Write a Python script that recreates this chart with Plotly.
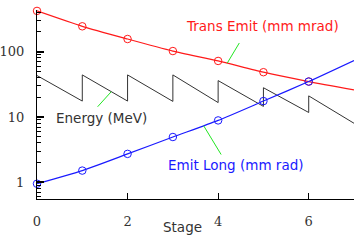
import numpy as np
import plotly.graph_objects as go

# ---- data ----
stages = [0, 1, 2, 3, 4, 5, 6, 7]
marker_stages = [0, 1, 2, 3, 4, 5, 6]
trans_emit = [420, 244, 156, 102, 72, 48.4, 34.8, 26]      # mm mrad
emit_long = [0.95, 1.51, 2.72, 4.93, 8.85, 17.5, 34.8, 73]  # mm rad
energy_x = [0, 1, 1, 2, 2, 3, 3, 4, 4, 5, 5, 6, 6, 7]
energy_y = [43, 17.5, 44, 17.5, 44, 17.3, 44, 16.6, 36, 14.5, 28, 11.7, 21, 8]  # MeV
x_tickvals = [0, 2, 4, 6]
y_tickvals = [1, 10, 100]
y_ticktext = ["1", "10", "100"]
y_minor = [0.6, 0.7, 0.8, 0.9] + [k * 10 ** e for e in range(0, 3) for k in range(2, 10)]

RED = "#ff1a1a"
BLUE = "#1a1aff"
GREEN = "#22e622"
GREY = "#333333"

fig = go.Figure()
fig.add_trace(go.Scatter(x=energy_x, y=energy_y, mode="lines",
                         line=dict(color=GREY, width=1), showlegend=False))
fig.add_trace(go.Scatter(x=stages, y=trans_emit, mode="lines",
                         line=dict(color=RED, width=1.2, shape="spline", smoothing=0.6), showlegend=False))
fig.add_trace(go.Scatter(x=marker_stages, y=trans_emit[:len(marker_stages)], mode="markers",
                         marker=dict(symbol="circle-open", size=7.5, color=RED, line=dict(width=1)),
                         showlegend=False, cliponaxis=False))
fig.add_trace(go.Scatter(x=stages, y=emit_long, mode="lines",
                         line=dict(color=BLUE, width=1.2, shape="spline", smoothing=0.6), showlegend=False))
fig.add_trace(go.Scatter(x=marker_stages, y=emit_long[:len(marker_stages)], mode="markers",
                         marker=dict(symbol="circle-open", size=7.5, color=BLUE, line=dict(width=1)),
                         showlegend=False, cliponaxis=False))


def on_curve(xs, ys, xq):
    return float(np.interp(xq, xs, np.log10(ys)))


def seg_interp(xs, ys, xq):
    # interpolate within the sawtooth segment that contains xq
    for i in range(len(xs) - 1):
        if xs[i] <= xq <= xs[i + 1] and xs[i + 1] > xs[i]:
            a, b = np.log10(ys[i]), np.log10(ys[i + 1])
            t = (xq - xs[i]) / (xs[i + 1] - xs[i])
            return float(a + t * (b - a))
    return float(np.log10(ys[-1]))


pointers = [
    (4.2, on_curve(stages, trans_emit, 4.2), 13, -21.7),
    (1.64, seg_interp(energy_x, energy_y, 1.64), -15, 16.6),
    (3.68, on_curve(stages, emit_long, 3.68), 18.4, 30.3),
]
for xq, yq, ax, ay in pointers:
    fig.add_annotation(x=xq, y=yq, text="", showarrow=True, arrowhead=0,
                       arrowwidth=1, arrowcolor=GREEN, ax=ax, ay=ay, standoff=0, startstandoff=0)

labels = [
    ("Trans Emit (mm mrad)", 0.710, 0.913, RED),
    ("Energy (MeV)", 0.204, 0.427, GREY),
    ("Emit Long (mm rad)", 0.627, 0.182, BLUE),
    ("Stage", 0.46, -0.150, GREY),
]
for txt, px, py, col in labels:
    fig.add_annotation(x=px, y=py, xref="paper", yref="paper", text=txt, showarrow=False,
                       xanchor="center", yanchor="middle",
                       font=dict(family="DejaVu Sans", size=13.5, color=col))

fig.update_layout(
    width=354, height=249,
    margin=dict(l=37, r=0, t=10, b=50, autoexpand=False),
    paper_bgcolor="white", plot_bgcolor="white",
    xaxis=dict(range=[0, 7], tickmode="array", tickvals=x_tickvals, automargin=False,
               ticks="inside", ticklen=6, tickwidth=1, tickcolor="black",
               showline=True, linecolor="black", linewidth=1.2, showgrid=False, zeroline=False,
               ticklabelstandoff=10,
               tickfont=dict(family="DejaVu Serif", size=13, color=GREY)),
    yaxis=dict(type="log", range=[-0.256, 2.637], tickmode="array", automargin=False,
               tickvals=y_tickvals, ticktext=y_ticktext,
               ticks="inside", ticklen=7, tickwidth=1.5, tickcolor="black",
               minor=dict(ticks="inside", ticklen=4, tickwidth=1, tickcolor="black",
                          tickmode="array", tickvals=y_minor, showgrid=False),
               showline=True, linecolor="black", linewidth=1.2, showgrid=False, zeroline=False,
               ticklabelstandoff=9,
               tickfont=dict(family="DejaVu Serif", size=13, color=GREY)),
)

fig.write_html("out.html", config={"displayModeBar": False},
               post_script="document.body.style.margin='0';document.body.style.overflow='hidden';")
